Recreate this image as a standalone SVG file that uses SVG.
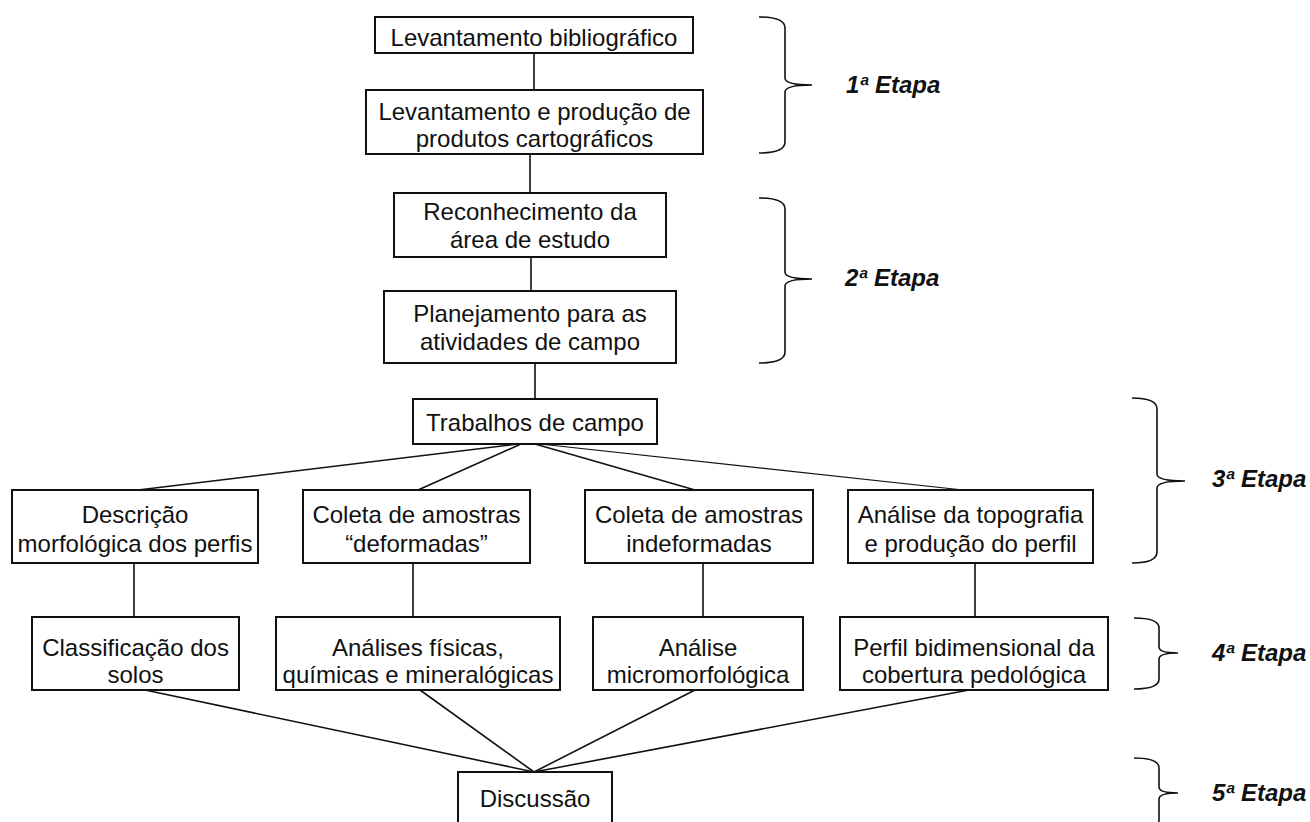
<svg xmlns="http://www.w3.org/2000/svg" width="1310" height="822" viewBox="0 0 1310 822">
<style>
.box{fill:#fff;stroke:#111;stroke-width:2}
.t{font-family:"Liberation Sans",Arial,sans-serif;font-size:24px;fill:#111;text-anchor:middle}
.lab{font-family:"Liberation Sans",Arial,sans-serif;font-size:24px;font-weight:bold;font-style:italic;fill:#111}
.c{stroke:#111;stroke-width:1.6;fill:none}
.br{stroke:#111;stroke-width:1.6;fill:none}
</style>
<rect width="1310" height="822" fill="#fff"/>
<g id="connectors">
<line class="c" x1="534" y1="53" x2="534" y2="90"/>
<line class="c" x1="530" y1="154" x2="530" y2="193"/>
<line class="c" x1="531" y1="257" x2="531" y2="291"/>
<line class="c" x1="535" y1="363" x2="535" y2="399"/>
<line class="c" x1="518" y1="444" x2="138" y2="490"/>
<line class="c" x1="521" y1="444" x2="418" y2="490"/>
<line class="c" x1="535" y1="444" x2="695" y2="490"/>
<line class="c" x1="540" y1="444" x2="963" y2="490" style="stroke-width:1.2"/>
<line class="c" x1="134" y1="563" x2="134" y2="617"/>
<line class="c" x1="413" y1="563" x2="413" y2="617"/>
<line class="c" x1="703" y1="563" x2="703" y2="617"/>
<line class="c" x1="975" y1="563" x2="975" y2="617"/>
<line class="c" x1="145" y1="690" x2="534" y2="772"/>
<line class="c" x1="420" y1="690" x2="534" y2="772"/>
<line class="c" x1="695" y1="690" x2="534" y2="772"/>
<line class="c" x1="969" y1="690" x2="534" y2="772"/>
</g>
<g id="n1"><rect class="box" x="375" y="17" width="318" height="36"/><text class="t" x="534" y="46">Levantamento bibliográfico</text></g>
<g id="n2"><rect class="box" x="366" y="90" width="337" height="64"/><text class="t" x="534.5" y="120">Levantamento e produção de</text><text class="t" x="534.5" y="147">produtos cartográficos</text></g>
<g id="n3"><rect class="box" x="394" y="193" width="272" height="64"/><text class="t" x="530" y="220">Reconhecimento da</text><text class="t" x="530" y="248">área de estudo</text></g>
<g id="n4"><rect class="box" x="384" y="291" width="292" height="72"/><text class="t" x="530" y="322">Planejamento para as</text><text class="t" x="530" y="350">atividades de campo</text></g>
<g id="n5"><rect class="box" x="413" y="399" width="244" height="45"/><text class="t" x="535" y="431">Trabalhos de campo</text></g>
<g id="n6"><rect class="box" x="12" y="490" width="246" height="73"/><text class="t" x="135" y="523">Descrição</text><text class="t" x="135" y="552">morfológica dos perfis</text></g>
<g id="n7"><rect class="box" x="303" y="490" width="227" height="73"/><text class="t" x="416.5" y="523">Coleta de amostras</text><text class="t" x="416.5" y="552">“deformadas”</text></g>
<g id="n8"><rect class="box" x="585" y="490" width="228" height="73"/><text class="t" x="699" y="523">Coleta de amostras</text><text class="t" x="699" y="552">indeformadas</text></g>
<g id="n9"><rect class="box" x="848" y="490" width="245" height="73"/><text class="t" x="970.5" y="523">Análise da topografia</text><text class="t" x="970.5" y="552">e produção do perfil</text></g>
<g id="n10"><rect class="box" x="32" y="617" width="207" height="73"/><text class="t" x="135.5" y="656">Classificação dos</text><text class="t" x="135.5" y="683">solos</text></g>
<g id="n11"><rect class="box" x="276" y="617" width="284" height="73"/><text class="t" x="418" y="656">Análises físicas,</text><text class="t" x="418" y="683">químicas e mineralógicas</text></g>
<g id="n12"><rect class="box" x="593" y="617" width="210" height="73"/><text class="t" x="698" y="656">Análise</text><text class="t" x="698" y="683">micromorfológica</text></g>
<g id="n13"><rect class="box" x="840" y="617" width="268" height="73"/><text class="t" x="974" y="656">Perfil bidimensional da</text><text class="t" x="974" y="683">cobertura pedológica</text></g>
<g id="n14"><rect class="box" x="458" y="772" width="154" height="60"/><text class="t" x="535" y="807">Discussão</text></g>
<g id="stages">
<path class="br" d="M759,17 Q785,17 785,28 L785,78 Q785,85 812,85 Q785,85 785,92 L785,142 Q785,153 759,153"/>
<text class="lab" x="846" y="93">1ª Etapa</text>
<path class="br" d="M759,198 Q785,198 785,209 L785,272 Q785,279 812,279 Q785,279 785,286 L785,352 Q785,363 759,363"/>
<text class="lab" x="845" y="286">2ª Etapa</text>
<path class="br" d="M1132,398 Q1157,398 1157,409 L1157,474 Q1157,481 1185,481 Q1157,481 1157,488 L1157,552 Q1157,563 1132,563"/>
<text class="lab" x="1212" y="487">3ª Etapa</text>
<path class="br" d="M1134,618 Q1159,618 1159,628 L1159,647 Q1159,653 1178,653 Q1159,653 1159,659 L1159,679 Q1159,689 1134,689"/>
<text class="lab" x="1212" y="661">4ª Etapa</text>
<path class="br" d="M1134,758 Q1159,758 1159,768 L1159,787 Q1159,793 1178,793 Q1159,793 1159,799 L1159,820 Q1159,830 1134,830"/>
<text class="lab" x="1212" y="801">5ª Etapa</text>
</g>
</svg>
